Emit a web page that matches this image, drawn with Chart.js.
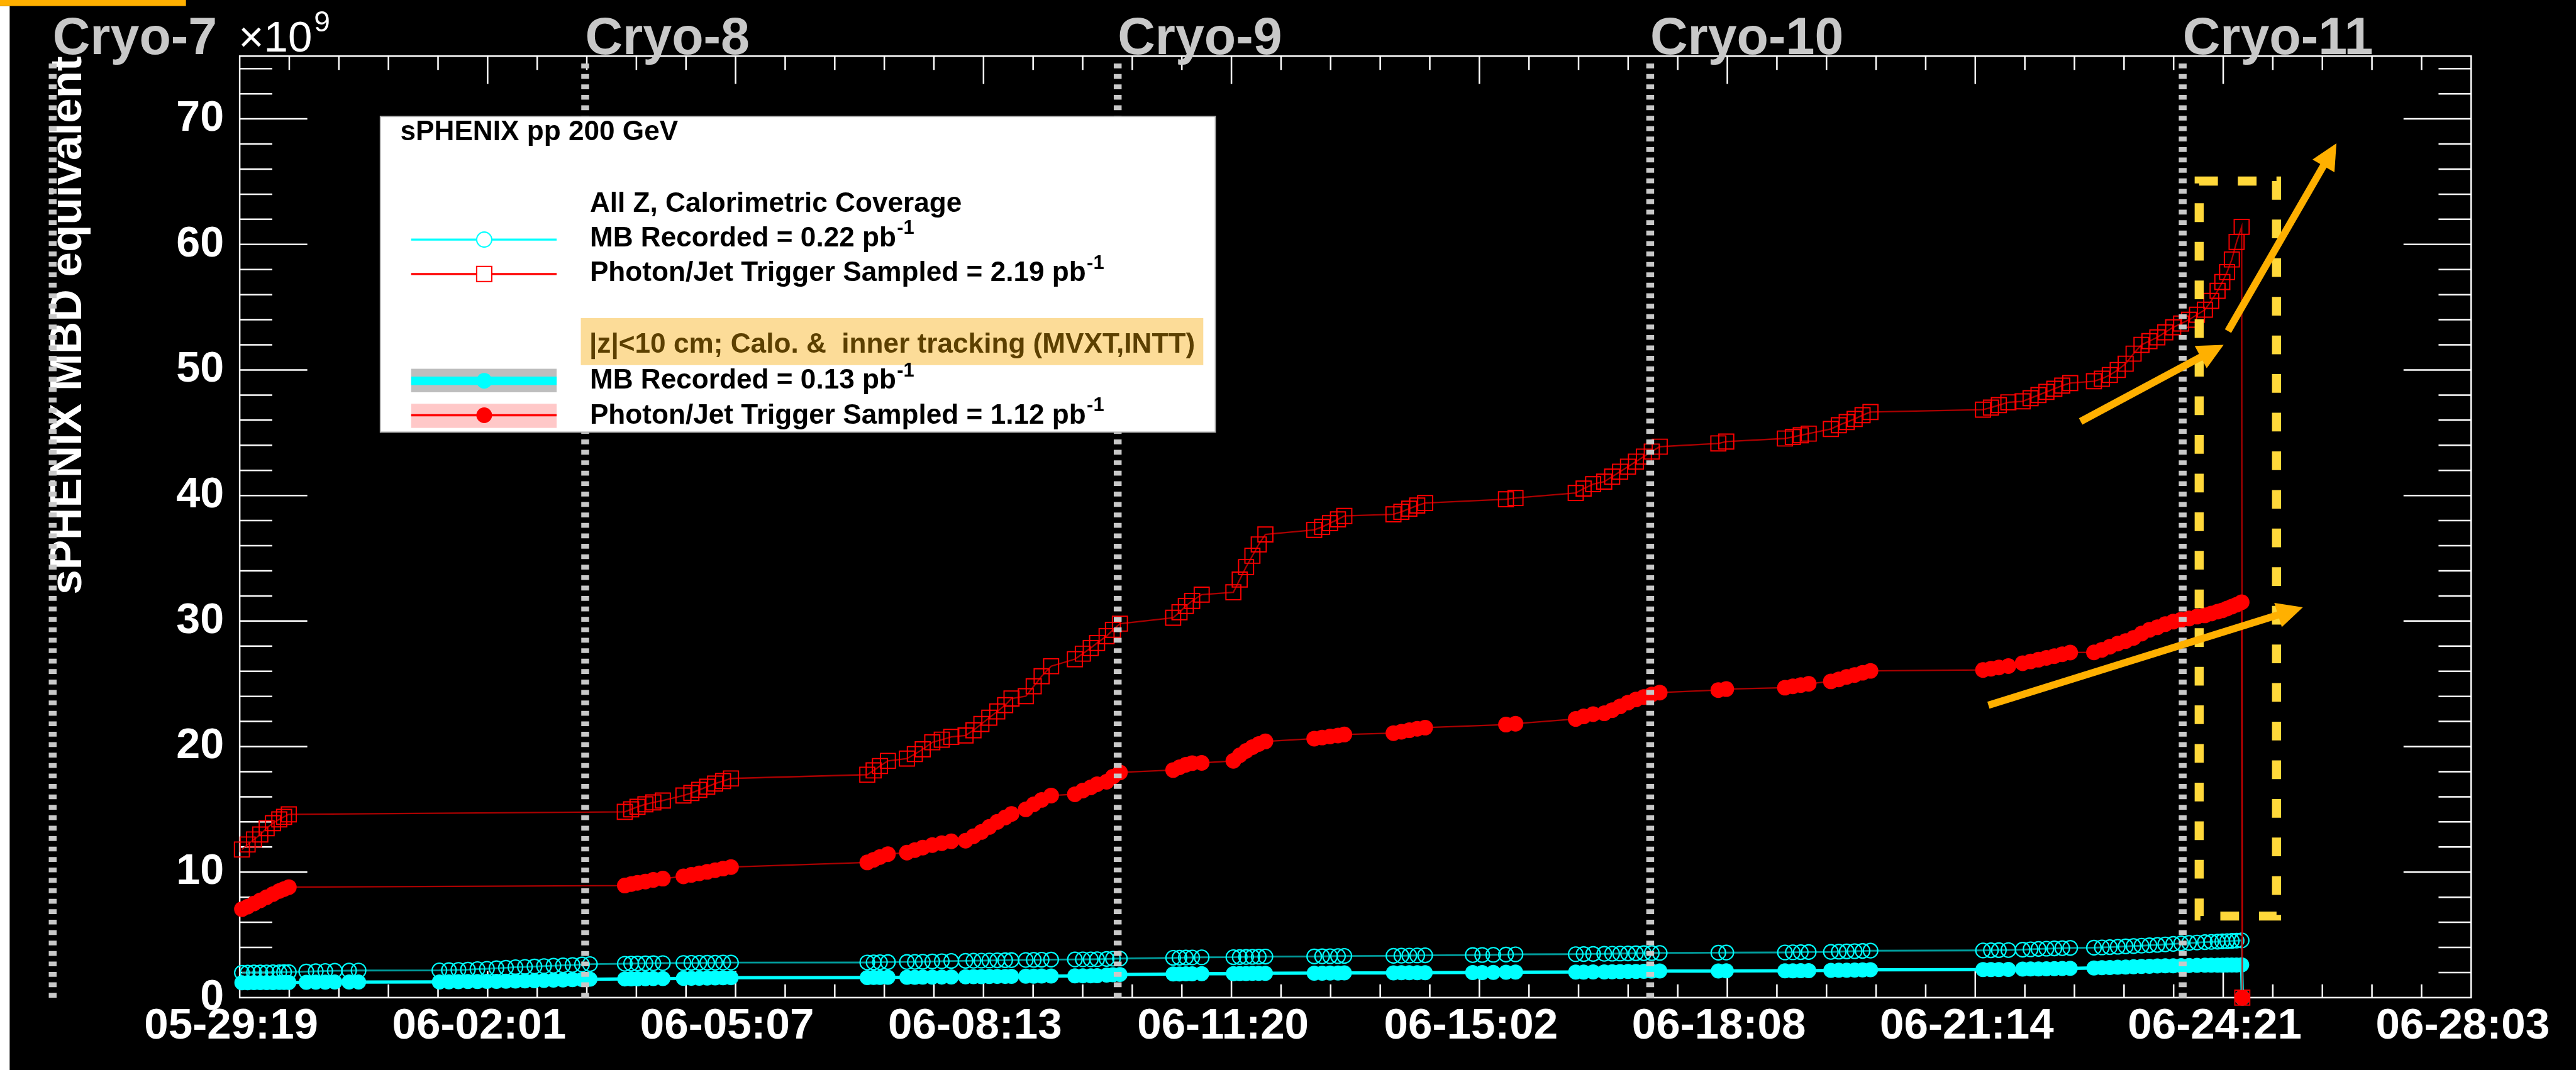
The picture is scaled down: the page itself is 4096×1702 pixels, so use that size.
<!DOCTYPE html>
<html>
<head>
<meta charset="utf-8">
<title>sPHENIX pp 200 GeV sampled luminosity</title>
<script src="https://cdn.jsdelivr.net/npm/chart.js@4.4.1/dist/chart.umd.min.js"></script>
<style>
  html, body { margin: 0; padding: 0; background: #000; overflow: hidden; }
  canvas { display: block; }
</style>
</head>
<body>
<canvas id="lumi" width="4096" height="1702"></canvas>
<script>
// ---- axis definitions -------------------------------------------------
const tickLabels = ['05-29:19', '06-02:01', '06-05:07', '06-08:13', '06-11:20',
                    '06-15:02', '06-18:08', '06-21:14', '06-24:21', '06-28:03'];
const axisSpanHours = 704;                 // 05-29 19:00 -> 06-28 03:00
const yTickValues = [0, 10, 20, 30, 40, 50, 60, 70];
const yMax = 75;                           // units of 10^9 MBD-equivalent

// ---- run-by-run cumulative values (hours since 05-29 19:00, x10^9) ------
const runHours = [
  0.7, 2.5, 4.5, 6.5, 8.5, 10.5, 12.5, 14, 15.5,
  21, 24, 27, 30,
  34.5, 37.5,
  63, 66, 69, 72,
  75, 78, 81, 84, 87, 90, 93, 96, 99, 102, 105, 108, 110.5,
  121.5, 123.5, 125.5, 128, 130.5, 133.5,
  140, 142.5, 145, 147.5, 150, 152.5, 155,
  198, 200, 202, 204.5,
  210.5, 213, 215.5, 218.5, 221.5, 224.5,
  229, 231.5, 234, 236.5, 239, 241.5, 243.5, 248, 250.5, 253, 256,
  263.5, 266, 268.5, 270.5,
  273.5, 275.5, 277.7,
  294.5, 296.5, 298.5, 300.5, 303.5,
  313.5, 315.5, 317.5, 319.5, 321.5, 323.6,
  339, 341.5, 344, 346.5, 348.5,
  364, 366.5, 369, 371.5, 374,
  389, 392, 395.5,
  399.5, 402.5,
  421.5, 424, 427,
  430.5, 433, 435.5, 438, 440.5, 443, 445.5, 448,
  466.5, 469,
  487.5, 490, 492.5, 495,
  502, 504.5, 507, 509.5, 512, 514.5,
  550, 552.5, 555, 558,
  562.5, 565, 567.5, 570, 572.5, 575, 577.5,
  585, 587.5, 590, 592.5, 595, 597.5, 600, 602.5, 605, 607.5, 610, 612.5,
  615, 617.5, 620, 622, 624, 625.5, 627, 628.5, 630, 631.6,
  631.8
];

// All Z, calorimetric coverage: MB recorded
const mbAllZ = [
  1.98, 1.99, 2.0, 2.0, 2.01, 2.02, 2.02, 2.03, 2.03,
  2.08, 2.1, 2.12, 2.14,
  2.15, 2.16,
  2.17, 2.19, 2.21, 2.23,
  2.27, 2.3, 2.34, 2.38, 2.42, 2.45, 2.48, 2.51, 2.54, 2.57, 2.6, 2.64, 2.67,
  2.7, 2.71, 2.72, 2.73, 2.74, 2.75,
  2.76, 2.77, 2.77, 2.78, 2.78, 2.79, 2.79,
  2.8, 2.81, 2.82, 2.83,
  2.84, 2.85, 2.86, 2.88, 2.9, 2.92,
  2.93, 2.94, 2.95, 2.96, 2.97, 2.98, 2.99, 3.0, 3.01, 3.02, 3.03,
  3.04, 3.05, 3.05, 3.06,
  3.08, 3.1, 3.11,
  3.17, 3.18, 3.19, 3.2, 3.21,
  3.22, 3.23, 3.24, 3.25, 3.26, 3.27,
  3.28, 3.29, 3.3, 3.31, 3.32,
  3.33, 3.34, 3.35, 3.36, 3.37,
  3.39, 3.4, 3.41,
  3.43, 3.45,
  3.46, 3.47, 3.48,
  3.49, 3.5, 3.51, 3.52, 3.53, 3.54, 3.55, 3.56,
  3.58, 3.59,
  3.6, 3.61, 3.62, 3.63,
  3.64, 3.66, 3.68, 3.7, 3.72, 3.74,
  3.76, 3.77, 3.78, 3.79,
  3.82, 3.85, 3.88, 3.9, 3.92, 3.94, 3.96,
  3.98, 4.0, 4.02, 4.05, 4.08, 4.11, 4.14, 4.17, 4.2, 4.24, 4.28, 4.32,
  4.36, 4.39, 4.42, 4.44, 4.46, 4.48, 4.5, 4.52, 4.54, 4.56,
  0
];

// All Z, calorimetric coverage: photon/jet trigger sampled (null = trigger not live)
const trigAllZ = [
  11.8, 12.2, 12.6, 13.0, 13.5, 13.9, 14.2, 14.4, 14.6,
  null, null, null, null,
  null, null,
  null, null, null, null,
  null, null, null, null, null, null, null, null, null, null, null, null, null,
  14.8, 15.0, 15.2, 15.4, 15.55, 15.7,
  16.1, 16.3, 16.55, 16.8, 17.05, 17.25, 17.46,
  17.76, 18.1, 18.45, 18.86,
  19.04, 19.4, 19.78, 20.34, 20.55, 20.77,
  20.88, 21.3, 21.8, 22.3, 22.8, 23.3, 23.83, 24.01, 24.8, 25.6, 26.4,
  26.96, 27.4, 27.85, 28.25,
  28.8, 29.3, 29.79,
  30.26, 30.7, 31.2, 31.6, 32.1,
  32.29, 33.3, 34.3, 35.2, 36.1, 36.9,
  37.26, 37.5, 37.8, 38.1, 38.37,
  38.5, 38.7, 38.95, 39.2, 39.4,
  null, null, null,
  39.7, 39.8,
  40.2, 40.55, 40.9,
  41.1, 41.5, 41.9, 42.3, 42.7, 43.1, 43.5, 43.89,
  44.15, 44.3,
  44.54, 44.66, 44.8, 44.93,
  45.3, 45.6, 45.85, 46.1, 46.4, 46.65,
  46.84, 47.0, 47.2, 47.42,
  47.5, 47.75, 48.0, 48.25, 48.5, 48.75, 48.95,
  49.1, 49.3, 49.6, 50.0, 50.5, 51.3, 52.0, 52.3, 52.6, 53.0, 53.4, 53.7,
  54.0, 54.4, 54.8, 55.5, 56.3, 57.0, 57.8, 58.8, 60.2, 61.4,
  0
];

// |z|<10 cm, calo + inner tracking: MB recorded
const mbVertex = [
  1.18, 1.18, 1.19, 1.19, 1.2, 1.2, 1.21, 1.21, 1.21,
  1.22, 1.23, 1.23, 1.24,
  1.24, 1.24,
  1.25, 1.26, 1.27, 1.28,
  1.28, 1.29, 1.3, 1.31, 1.32, 1.33, 1.35, 1.37, 1.39, 1.41, 1.43, 1.45, 1.47,
  1.49, 1.5, 1.5, 1.51, 1.52, 1.52,
  1.53, 1.54, 1.55, 1.56, 1.57, 1.58, 1.59,
  1.6, 1.61, 1.61, 1.62,
  1.62, 1.62, 1.63, 1.63, 1.64, 1.65,
  1.66, 1.67, 1.67, 1.68, 1.69, 1.69, 1.7, 1.71, 1.71, 1.72, 1.72,
  1.73, 1.74, 1.74, 1.75,
  1.8, 1.82, 1.84,
  1.88, 1.89, 1.9, 1.9, 1.91,
  1.91, 1.92, 1.92, 1.93, 1.93, 1.94,
  1.95, 1.95, 1.96, 1.96, 1.97,
  1.97, 1.98, 1.98, 1.99, 1.99,
  2.0, 2.0, 2.01,
  2.02, 2.03,
  2.04, 2.04, 2.05,
  2.05, 2.06, 2.07, 2.08, 2.09, 2.1, 2.11, 2.12,
  2.12, 2.13,
  2.14, 2.14, 2.15, 2.15,
  2.17, 2.18, 2.19, 2.2, 2.21, 2.22,
  2.23, 2.24, 2.24, 2.25,
  2.27, 2.28, 2.29, 2.3, 2.31, 2.32, 2.33,
  2.36, 2.38, 2.4, 2.42, 2.44, 2.46, 2.48, 2.5, 2.52, 2.53, 2.54, 2.55,
  2.56, 2.57, 2.58, 2.58, 2.59, 2.59, 2.6, 2.6, 2.6, 2.61,
  0
];

// |z|<10 cm, calo + inner tracking: photon/jet trigger sampled
const trigVertex = [
  7.05, 7.25, 7.5, 7.75, 8.0, 8.25, 8.5, 8.65, 8.8,
  null, null, null, null,
  null, null,
  null, null, null, null,
  null, null, null, null, null, null, null, null, null, null, null, null, null,
  8.93, 9.05, 9.15, 9.25, 9.38, 9.48,
  9.66, 9.78, 9.9, 10.02, 10.15, 10.28, 10.4,
  10.77, 10.98, 11.2, 11.43,
  11.55, 11.75, 11.95, 12.15, 12.3, 12.45,
  12.5, 12.85, 13.2, 13.6, 14.0, 14.35, 14.63, 15.0, 15.4, 15.75, 16.1,
  16.2, 16.5, 16.75, 17.0,
  17.2, 17.6, 17.94,
  18.13, 18.35, 18.55, 18.68, 18.7,
  18.86, 19.3, 19.65, 19.95, 20.2, 20.41,
  20.63, 20.72, 20.8, 20.88, 20.96,
  21.07, 21.18, 21.3, 21.42, 21.51,
  null, null, null,
  21.75, 21.82,
  22.2, 22.4, 22.58,
  22.65, 22.9, 23.2, 23.5, 23.75, 23.95, 24.15, 24.3,
  24.5, 24.58,
  24.69, 24.8, 24.9, 25.0,
  25.19, 25.35, 25.55, 25.7, 25.88, 26.03,
  26.1, 26.2, 26.3, 26.41,
  26.64, 26.78, 26.92, 27.06, 27.2, 27.35, 27.49,
  27.5, 27.7, 27.95, 28.2, 28.4, 28.65, 29.0, 29.3, 29.5, 29.75, 29.95, 30.1,
  30.2, 30.35, 30.45, 30.6, 30.75, 30.85, 31.0, 31.15, 31.3, 31.5,
  0
];

// ---- annotations (data units: hours, x10^9) -----------------------------
const cryoNames = ['Cryo-7', 'Cryo-8', 'Cryo-9', 'Cryo-10', 'Cryo-11'];
const cryoHours = [-59, 109, 277, 445, 613];
const focusBox = { x0: 618.2, y0: 6.5, x1: 642.6, y1: 65.05 };
const trendArrows = [
  [580.8, 45.9, 625.9, 52.0],
  [627.3, 53.1, 661.5, 68.05],
  [551.7, 23.3, 650.9, 31.1]
];

// ---- text ---------------------------------------------------------------
const yTitle = 'sPHENIX MBD equivalent';
const legendHeader = 'sPHENIX pp 200 GeV';
const groupAllZ = 'All Z, Calorimetric Coverage';
const groupVertex = '|z|<10 cm; Calo. &  inner tracking (MVXT,INTT)';
const entryMbAllZ = 'MB Recorded = 0.22 pb';
const entryTrigAllZ = 'Photon/Jet Trigger Sampled = 2.19 pb';
const entryMbVertex = 'MB Recorded = 0.13 pb';
const entryTrigVertex = 'Photon/Jet Trigger Sampled = 1.12 pb';
const invUnit = '-1';

// ---- drawing ------------------------------------------------------------
const S = 0.96;                 // overall drawing scale
const P = v => v * S;
const FONT = '"Liberation Sans", "Helvetica", "Arial", sans-serif';
const pts = vals => runHours.map((h, i) => ({ x: h, y: vals[i] }));

function supText(ctx, str, x, yb, size) {
  ctx.font = `bold ${size}px ${FONT}`;
  ctx.fillText(str, x, yb);
  const w = ctx.measureText(str).width;
  ctx.font = `bold ${size * 0.7}px ${FONT}`;
  ctx.fillText(invUnit, x + w + size * 0.03, yb - size * 0.44);
}

function drawArrow(ctx, x0, y0, x1, y1) {
  const dx = x1 - x0, dy = y1 - y0, L = Math.hypot(dx, dy);
  const ux = dx / L, uy = dy / L;
  const head = P(43), half = P(21);
  const bx = x1 - ux * head, by = y1 - uy * head;
  ctx.lineWidth = P(12);
  ctx.lineCap = 'butt';
  ctx.beginPath();
  ctx.moveTo(x0, y0);
  ctx.lineTo(bx + ux * 3, by + uy * 3);
  ctx.stroke();
  ctx.beginPath();
  ctx.moveTo(x1, y1);
  ctx.lineTo(bx - uy * half, by + ux * half);
  ctx.lineTo(bx + uy * half, by - ux * half);
  ctx.closePath();
  ctx.fill();
}

const decor = {
  id: 'decor',
  beforeDraw(chart) {
    const ctx = chart.ctx;
    ctx.save();
    ctx.fillStyle = '#000';
    ctx.fillRect(0, 0, chart.width, chart.height);
    ctx.fillStyle = '#fff';
    ctx.fillRect(0, P(10), P(16), chart.height);
    ctx.fillStyle = '#FFB000';
    ctx.fillRect(0, 0, P(308), P(10));
    ctx.restore();
  },
  beforeDatasetsDraw(chart) {
    const { ctx, chartArea: a, scales: { x, y } } = chart;
    ctx.save();
    // frame
    ctx.strokeStyle = '#fff';
    ctx.lineWidth = P(2.6);
    ctx.strokeRect(a.left, a.top, a.right - a.left, a.bottom - a.top);
    // inward tick marks on all four sides
    ctx.beginPath();
    for (let v = 2; v < yMax; v += 2) {
      const py = y.getPixelForValue(v);
      const len = v % 10 === 0 ? P(112) : P(54);
      ctx.moveTo(a.left, py); ctx.lineTo(a.left + len, py);
      ctx.moveTo(a.right, py); ctx.lineTo(a.right - len, py);
    }
    const nMinor = (tickLabels.length - 1) * 5;
    for (let i = 1; i < nMinor; i++) {
      const px = x.getPixelForValue(i * axisSpanHours / nMinor);
      const major = i % 5 === 0;
      ctx.moveTo(px, a.bottom); ctx.lineTo(px, a.bottom - (major ? P(44) : P(22)));
      ctx.moveTo(px, a.top); ctx.lineTo(px, a.top + (major ? P(46) : P(23)));
    }
    ctx.stroke();
    // exponent of the y axis
    ctx.fillStyle = '#fff';
    ctx.textAlign = 'left';
    ctx.textBaseline = 'alphabetic';
    ctx.font = `${P(72)}px ${FONT}`;
    ctx.fillText('\u00d710', a.left - P(2), P(85));
    const wx = ctx.measureText('\u00d710').width;
    ctx.font = `${P(48)}px ${FONT}`;
    ctx.fillText('9', a.left - P(2) + wx + P(3), P(52));
    // y axis title, right-aligned to the top of the frame
    ctx.save();
    ctx.translate(P(134), a.top);
    ctx.rotate(-Math.PI / 2);
    ctx.textAlign = 'right';
    ctx.font = `bold ${P(74)}px ${FONT}`;
    ctx.fillText(yTitle, 0, 0);
    ctx.restore();
    ctx.restore();
  },
  afterDatasetsDraw(chart) {
    const { ctx, chartArea: a, scales: { x, y } } = chart;
    ctx.save();
    // cryo cycle markers
    ctx.strokeStyle = '#c8c8c8';
    ctx.lineWidth = P(13);
    ctx.lineCap = 'butt';
    ctx.setLineDash([P(8), P(9.3)]);
    cryoHours.forEach(h => {
      const px = x.getPixelForValue(h);
      ctx.beginPath();
      ctx.moveTo(px, a.bottom);
      ctx.lineTo(px, a.top + P(8));
      ctx.stroke();
    });
    ctx.setLineDash([]);
    ctx.fillStyle = '#c8c8c8';
    ctx.font = `bold ${P(86)}px ${FONT}`;
    ctx.textAlign = 'left';
    ctx.textBaseline = 'alphabetic';
    cryoHours.forEach((h, i) => {
      ctx.fillText(cryoNames[i], x.getPixelForValue(h), P(90));
    });

    // legend
    const L = { x0: 630, y0: 193, x1: 2013, y1: 716 };
    ctx.fillStyle = '#fff';
    ctx.fillRect(P(L.x0), P(L.y0), P(L.x1 - L.x0), P(L.y1 - L.y0));
    ctx.strokeStyle = '#b4b4b4';
    ctx.lineWidth = P(2);
    ctx.strokeRect(P(L.x0), P(L.y0), P(L.x1 - L.x0), P(L.y1 - L.y0));
    ctx.fillStyle = '#FCDC98';
    ctx.fillRect(P(962), P(527), P(1993 - 962), P(605 - 527));

    const fs = P(46);
    ctx.fillStyle = '#000';
    ctx.font = `bold ${fs}px ${FONT}`;
    ctx.fillText(legendHeader, P(663), P(232));
    ctx.fillText(groupAllZ, P(977), P(351));
    supText(ctx, entryMbAllZ, P(977), P(408), fs);
    supText(ctx, entryTrigAllZ, P(977), P(466), fs);
    ctx.fillStyle = '#5C4000';
    ctx.font = `bold ${fs}px ${FONT}`;
    ctx.fillText(groupVertex, P(976), P(584));
    ctx.fillStyle = '#000';
    supText(ctx, entryMbVertex, P(977), P(644), fs);
    supText(ctx, entryTrigVertex, P(977), P(702), fs);

    const sx0 = P(681), sx1 = P(922), sxc = P(802);
    // MB all Z
    ctx.strokeStyle = '#00FFFF'; ctx.lineWidth = P(3.5);
    ctx.beginPath(); ctx.moveTo(sx0, P(397)); ctx.lineTo(sx1, P(397)); ctx.stroke();
    ctx.fillStyle = '#fff'; ctx.lineWidth = P(2.2);
    ctx.beginPath(); ctx.arc(sxc, P(397), P(12.5), 0, Math.PI * 2); ctx.fill(); ctx.stroke();
    // trigger all Z
    ctx.strokeStyle = '#FF0000'; ctx.lineWidth = P(3.5);
    ctx.beginPath(); ctx.moveTo(sx0, P(454)); ctx.lineTo(sx1, P(454)); ctx.stroke();
    ctx.lineWidth = P(2.2);
    ctx.fillRect(sxc - P(12.5), P(454) - P(12.5), P(25), P(25));
    ctx.strokeRect(sxc - P(12.5), P(454) - P(12.5), P(25), P(25));
    // MB |z|<10
    ctx.fillStyle = '#BEBEBE';
    ctx.fillRect(sx0, P(611), sx1 - sx0, P(39));
    ctx.fillStyle = '#00FFFF';
    ctx.fillRect(sx0, P(624), sx1 - sx0, P(14));
    ctx.beginPath(); ctx.arc(sxc, P(631), P(13), 0, Math.PI * 2); ctx.fill();
    // trigger |z|<10
    ctx.fillStyle = '#FFC8C8';
    ctx.fillRect(sx0, P(669), sx1 - sx0, P(40));
    ctx.strokeStyle = '#FF0000'; ctx.lineWidth = P(3.5);
    ctx.beginPath(); ctx.moveTo(sx0, P(688)); ctx.lineTo(sx1, P(688)); ctx.stroke();
    ctx.fillStyle = '#FF0000';
    ctx.beginPath(); ctx.arc(sxc, P(688), P(13), 0, Math.PI * 2); ctx.fill();

    // highlighted end-of-period region (traced top-left, clockwise)
    const bx0 = x.getPixelForValue(focusBox.x0), bx1 = x.getPixelForValue(focusBox.x1);
    const by0 = y.getPixelForValue(focusBox.y0), by1 = y.getPixelForValue(focusBox.y1);
    ctx.strokeStyle = '#FFD83A';
    ctx.lineWidth = P(15);
    ctx.lineJoin = 'miter';
    ctx.lineCap = 'butt';
    ctx.setLineDash([P(31), P(33)]);
    ctx.lineDashOffset = 0;
    ctx.beginPath();
    ctx.moveTo(bx0, by1);
    ctx.lineTo(bx1, by1);
    ctx.lineTo(bx1, by0);
    ctx.lineTo(bx0, by0);
    ctx.closePath();
    ctx.stroke();
    ctx.setLineDash([]);

    // trend arrows
    ctx.strokeStyle = '#FFB000';
    ctx.fillStyle = '#FFB000';
    trendArrows.forEach(([h0, v0, h1, v1]) => {
      drawArrow(ctx, x.getPixelForValue(h0), y.getPixelForValue(v0),
                x.getPixelForValue(h1), y.getPixelForValue(v1));
    });
    ctx.restore();
  }
};

Chart.defaults.font.family = FONT;

new Chart(document.getElementById('lumi'), {
  type: 'line',
  data: {
    datasets: [
      {
        label: 'All Z MB Recorded',
        data: pts(mbAllZ),
        borderColor: 'rgba(0,170,170,0.9)',
        borderWidth: P(3),
        pointStyle: 'circle',
        pointRadius: P(12),
        pointBorderWidth: P(2.2),
        pointBorderColor: '#00FFFF',
        pointBackgroundColor: 'rgba(0,0,0,0)',
        order: 4
      },
      {
        label: 'All Z Photon/Jet Trigger Sampled',
        data: pts(trigAllZ),
        borderColor: 'rgba(200,0,0,0.85)',
        borderWidth: P(2.4),
        pointStyle: 'rect',
        pointRadius: P(17.5),
        pointBorderWidth: P(2),
        pointBorderColor: '#FF0000',
        pointBackgroundColor: 'rgba(0,0,0,0)',
        order: 3
      },
      {
        label: '|z|<10 cm MB Recorded',
        data: pts(mbVertex),
        borderColor: '#00FFFF',
        borderWidth: P(5.5),
        pointStyle: 'circle',
        pointRadius: P(12.5),
        pointBorderWidth: 0,
        pointBackgroundColor: '#00FFFF',
        order: 2
      },
      {
        label: '|z|<10 cm Photon/Jet Trigger Sampled',
        data: pts(trigVertex),
        borderColor: 'rgba(200,0,0,0.85)',
        borderWidth: P(2.4),
        pointStyle: 'circle',
        pointRadius: P(13),
        pointBorderWidth: 0,
        pointBackgroundColor: '#FF0000',
        order: 1
      }
    ]
  },
  options: {
    responsive: false,
    animation: false,
    devicePixelRatio: 1,
    events: [],
    datasets: { line: { spanGaps: true, tension: 0, clip: false } },
    layout: { padding: { top: P(93), right: 4096 - P(4093), left: 0, bottom: 0 } },
    plugins: { legend: { display: false }, tooltip: { enabled: false } },
    scales: {
      x: {
        type: 'linear',
        min: 0,
        max: axisSpanHours,
        afterBuildTicks: s => {
          s.ticks = tickLabels.map((_, i) => ({ value: i * axisSpanHours / (tickLabels.length - 1) }));
        },
        afterFit: s => { s.height = 1702 - P(1653); },
        grid: { display: false, drawTicks: false },
        border: { display: false },
        ticks: {
          autoSkip: false,
          maxRotation: 0,
          minRotation: 0,
          color: '#fff',
          padding: P(5),
          labelOffset: -P(14),
          font: { family: FONT, weight: 'bold', size: P(72), lineHeight: 1.2 },
          callback: (v, i) => tickLabels[i]
        }
      },
      y: {
        type: 'linear',
        min: 0,
        max: yMax,
        afterBuildTicks: s => { s.ticks = yTickValues.map(v => ({ value: v })); },
        afterFit: s => { s.width = P(397); },
        grid: { display: false, drawTicks: false },
        border: { display: false },
        ticks: {
          color: '#fff',
          padding: P(26),
          font: { family: FONT, weight: 'bold', size: P(71) },
          callback: v => String(v)
        }
      }
    }
  },
  plugins: [decor]
});
</script>
</body>
</html>
